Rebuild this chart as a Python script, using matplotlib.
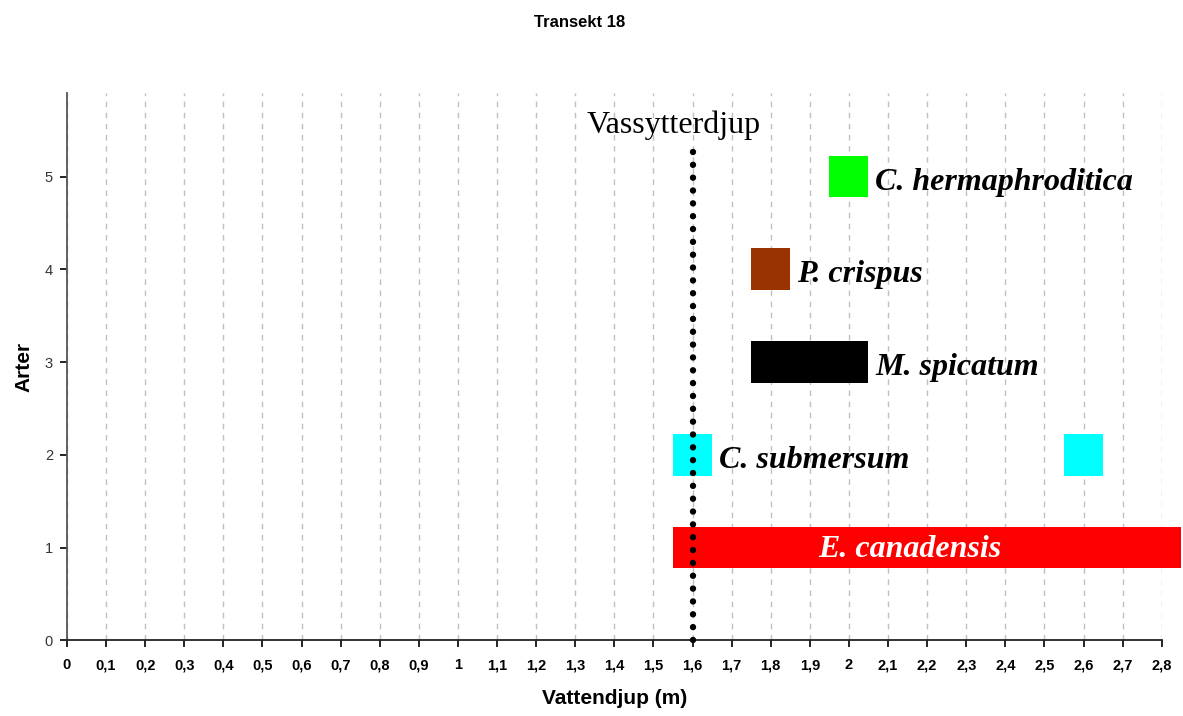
import matplotlib
matplotlib.use("Agg")
import matplotlib.pyplot as plt
import numpy as np

# Data
species = ["E. canadensis", "C. submersum", "M. spicatum", "P. crispus", "C. hermaphroditica"]
species_y = [1, 2, 3, 4, 5]
segments = [
    [(1.55, 2.85)],
    [(1.55, 1.65), (2.55, 2.65)],
    [(1.75, 2.05)],
    [(1.75, 1.85)],
    [(1.95, 2.05)],
]
colors = ["#ff0000", "#00ffff", "#000000", "#993300", "#00ff00"]
vassytter_depth = 1.6
vassytter_top = 5.3
x_ticks = np.round(np.arange(0, 2.81, 0.1), 1)
x_tick_labels = [("%g" % v).replace(".", ",") for v in x_ticks]
y_ticks = [0, 1, 2, 3, 4, 5]

sans = ["Liberation Sans", "DejaVu Sans"]
serif = ["Liberation Serif", "DejaVu Serif"]

fig = plt.figure(figsize=(11.83, 7.16), dpi=100)
ax = fig.add_axes([0.0566, 0.1057, 0.9254, 0.7643])

bar_h = 0.45
for yv, segs, c in zip(species_y, segments, colors):
    ax.broken_barh([(a, b - a) for a, b in segs], (yv - bar_h / 2, bar_h),
                   facecolors=c, edgecolor="none", clip_on=False, zorder=2)

# Labels
for name, yv, segs in zip(species, species_y, segments):
    if name == "E. canadensis":
        ax.text(2.157, yv - 0.02, name, color="white", fontsize=23, fontweight="bold",
                fontstyle="italic", family=serif, ha="center", va="center", zorder=4)
    else:
        ax.text(segs[0][1] + 0.017, yv - 0.06, name, color="black", fontsize=23,
                fontweight="bold", fontstyle="italic", family=serif,
                ha="left", va="center", zorder=4)

# Vassytterdjup line
ax.plot([vassytter_depth, vassytter_depth], [0, vassytter_top], linestyle=(0, (0.01, 2.0)),
        color="black", linewidth=4.6, dash_capstyle="round", zorder=3, clip_on=False)
ax.text(vassytter_depth - 0.048, 5.55, "Vassytterdjup", fontsize=23, family=serif,
        ha="center", va="center", zorder=4)

ax.set_xlim(0, 2.8)
ax.set_ylim(0, 5.9)
ax.set_xticks(x_ticks)
ax.set_xticklabels(x_tick_labels, fontsize=10.5, fontweight="bold", family=sans)
ax.set_yticks(y_ticks)
ax.set_yticklabels([str(v) for v in y_ticks], fontsize=10.5, color="#333333", family=sans)
ax.tick_params(axis="both", direction="out", length=5, width=1.2)
ax.tick_params(axis="x", pad=8)
ax.tick_params(axis="y", pad=5)

ax.xaxis.grid(True, linestyle=(0, (4, 4)), color="#c0c0c0", linewidth=1)
ax.yaxis.grid(False)
ax.set_axisbelow(True)

for s in ["top", "right"]:
    ax.spines[s].set_visible(False)
ax.spines["left"].set_color("#555555")
ax.spines["left"].set_linewidth(1.3)
ax.spines["bottom"].set_color("#222222")
ax.spines["bottom"].set_linewidth(1.3)

ax.set_xlabel("Vattendjup (m)", fontsize=15, fontweight="bold", labelpad=12, family=sans)
ax.set_ylabel("Arter", fontsize=15, fontweight="bold", labelpad=8, family=sans)
fig.text(0.49, 0.968, "Transekt 18", fontsize=12, fontweight="bold", ha="center", va="center",
         family=sans)

fig.savefig("out.png", dpi=100)
